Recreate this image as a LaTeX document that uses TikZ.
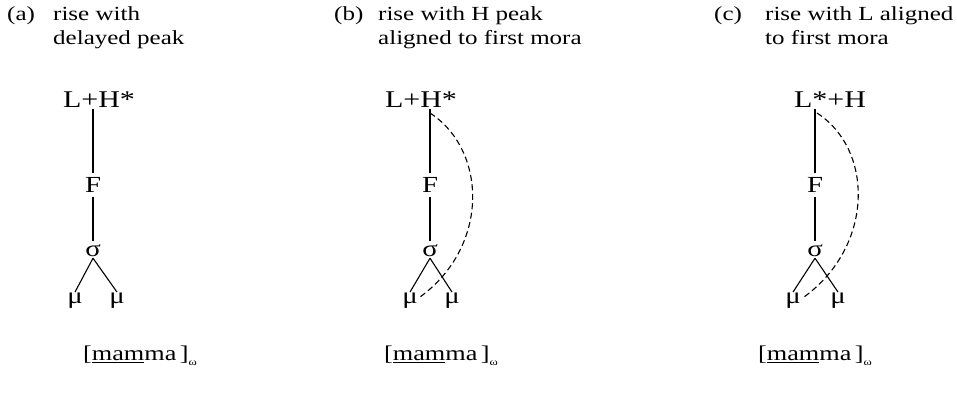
\documentclass[tikz,border=0pt]{standalone}
\usepackage{fontspec}
\setmainfont[FakeStretch=1.25]{Liberation Serif}
\usetikzlibrary{calc}

\tikzset{
  caption/.style={anchor=north west,align=left,inner sep=0pt,font=\fontsize{20}{24}\selectfont},
  tone/.style={inner sep=1pt,font=\fontsize{24}{24}\selectfont},
  unit/.style={inner sep=1pt,font=\fontsize{23}{23}\selectfont},
  word/.style={inner sep=0pt,font=\fontsize{21}{21}\selectfont},
  assoc/.style={line width=1.1pt,black},
  dassoc/.style={line width=1.1pt,black,dash pattern=on 6pt off 3.5pt}
}
\newcommand{\mammaword}{[\underline{mam}ma\,]\raisebox{-5pt}{\fontsize{10}{10}\selectfont ω}}

\begin{document}
\begin{tikzpicture}[x=1pt,y=-1pt]
\useasboundingbox (0,0) rectangle (957,397);

% captions
\node[caption] (a-lab) at (7,6) {(a)};
\node[caption] (a-cap) at (53,6) {rise with\\delayed peak};
\node[caption] (b-lab) at (334,6) {(b)};
\node[caption] (b-cap) at (378,6) {rise with H peak\\aligned to first mora};
\node[caption] (c-lab) at (714,6) {(c)};
\node[caption] (c-cap) at (765,6) {rise with L aligned\\to first mora};

% (a)
\node[tone] (a-T) at (99,100) {L+H*};
\node[unit] (a-F) at (93,185) {F};
\node[unit] (a-s) at (93,251) {σ};
\node[unit] (a-m1) at (75,301) {μ};
\node[unit] (a-m2) at (117,301) {μ};
\draw[assoc] (a-F.north) ++(0,-3) -- (a-F.north |- a-T.south);
\draw[assoc,shorten >=3pt,shorten <=3pt] (a-F) -- (a-s);
\draw[assoc] (a-s.south) -- (a-m1.north);
\draw[assoc] (a-s.south) -- (a-m2.north);
\node[word] (a-w) at (140,356) {\mammaword};

% (b)
\node[tone] (b-T) at (421,100) {L+H*};
\node[unit] (b-F) at (430,185) {F};
\node[unit] (b-s) at (430,251) {σ};
\node[unit] (b-m1) at (410,301) {μ};
\node[unit] (b-m2) at (452,301) {μ};
\draw[assoc] (b-F.north) ++(0,-3) -- (b-F.north |- b-T.south);
\draw[assoc,shorten >=3pt,shorten <=3pt] (b-F) -- (b-s);
\draw[assoc] (b-s.south) -- (b-m1.north);
\draw[assoc] (b-s.south) -- (b-m2.north);
\coordinate (b-h) at (430,113);
\coordinate (b-e) at (420,297);
\draw[dassoc] (b-h) .. controls +(57,37) and +(70,-51) .. (b-e);
\node[word] (b-w) at (441,356) {\mammaword};

% (c)
\node[tone] (c-T) at (830,100) {L*+H};
\node[unit] (c-F) at (815,185) {F};
\node[unit] (c-s) at (815,251) {σ};
\node[unit] (c-m1) at (793,301) {μ};
\node[unit] (c-m2) at (838,301) {μ};
\draw[assoc] (c-F.north) ++(0,-3) -- (c-F.north |- c-T.south);
\draw[assoc,shorten >=3pt,shorten <=3pt] (c-F) -- (c-s);
\draw[assoc] (c-s.south) -- (c-m1.north);
\draw[assoc] (c-s.south) -- (c-m2.north);
\coordinate (c-h) at (817,113);
\coordinate (c-e) at (804,297);
\draw[dassoc] (c-h) .. controls +(57,37) and +(70,-51) .. (c-e);
\node[word] (c-w) at (815,356) {\mammaword};
\end{tikzpicture}
\end{document}
